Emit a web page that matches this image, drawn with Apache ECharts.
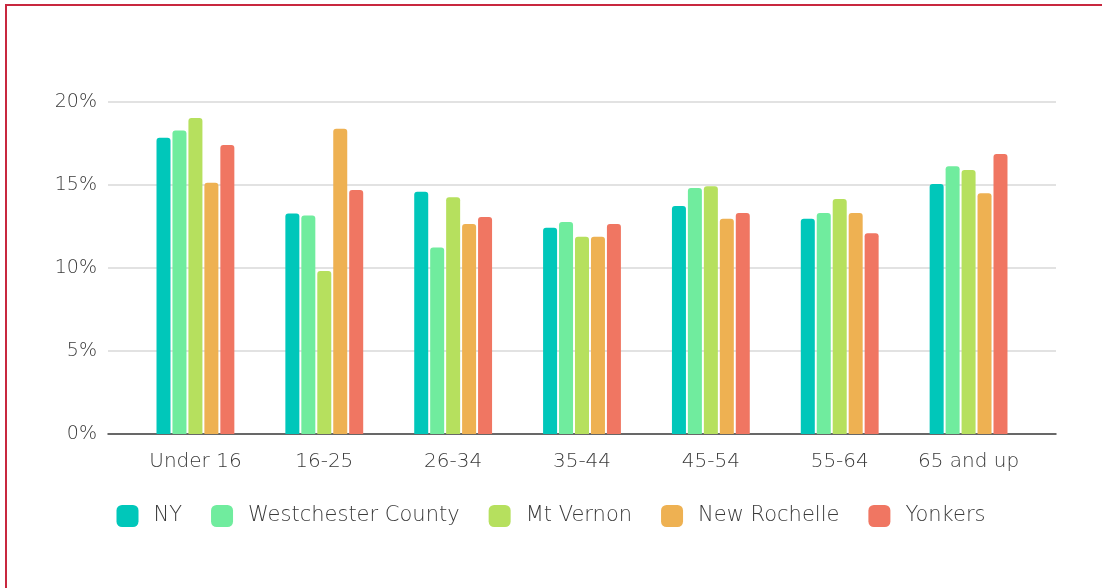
<!DOCTYPE html>
<html>
<head>
<meta charset="utf-8">
<script src="https://cdn.jsdelivr.net/npm/echarts@6/dist/echarts.min.js"></script>
<style>
  html, body { margin: 0; padding: 0; background: #fff; }
  #chart { width: 1102px; height: 588px; }
</style>
</head>
<body>
<div id="chart"></div>
<script>
const categories = ["Under 16", "16-25", "26-34", "35-44", "45-54", "55-64", "65 and up"];
const seriesNames = ["NY", "Westchester County", "Mt Vernon", "New Rochelle", "Yonkers"];
const ny = [17.85, 13.29, 14.6, 12.43, 13.73, 12.97, 15.06];
const westchester = [18.29, 13.17, 11.24, 12.77, 14.82, 13.31, 16.13];
const mtVernon = [19.04, 9.82, 14.26, 11.89, 14.92, 14.16, 15.9];
const newRochelle = [15.14, 18.39, 12.65, 11.89, 12.97, 13.31, 14.5];
const yonkers = [17.41, 14.7, 13.07, 12.65, 13.31, 12.09, 16.87];
const colors = ["#00C7BA", "#70EC9E", "#B6E05E", "#EEB152", "#F07662"];

const allValues = [ny, westchester, mtVernon, newRochelle, yonkers];
const font = "DejaVu Sans";
const textColor = "#3a3a3a";

const chart = echarts.init(document.getElementById("chart"));

const option = {
  animation: false,
  textStyle: { fontFamily: font, fontWeight: 200 },
  graphic: [
    {
      type: "rect",
      shape: { x: 6, y: 5, width: 1200, height: 700 },
      style: { fill: "none", stroke: "#C8283F", lineWidth: 2 },
    },
  ],
  legend: {
    top: 500,
    left: "center",
    itemWidth: 22,
    itemHeight: 22,
    itemGap: 29,
    icon: "roundRect",
    textStyle: { fontFamily: font, fontWeight: 200, fontSize: 21, color: textColor, padding: [0, 0, 0, 10] },
    data: seriesNames,
  },
  grid: [
    { left: 108, right: 46, top: 102, bottom: 154 },
    { left: 131, right: 69, top: 102, bottom: 154 },
  ],
  xAxis: [
    {
      gridIndex: 0,
      type: "category",
      data: categories,
      axisLine: { lineStyle: { color: "#404040", width: 1.5 } },
      axisTick: { show: false },
      axisLabel: { show: false },
    },
    {
      gridIndex: 1,
      type: "category",
      data: categories,
      axisLine: { show: false },
      axisTick: { show: false },
      axisLabel: { interval: 0, fontFamily: font, fontWeight: 200, fontSize: 20, color: textColor, margin: 18 },
    },
  ],
  yAxis: [
    {
      gridIndex: 0,
      type: "value",
      min: 0,
      max: 20,
      interval: 5,
      axisLine: { show: false },
      axisTick: { show: false },
      axisLabel: { formatter: "{value}%", fontFamily: font, fontWeight: 200, fontSize: 19, color: textColor, margin: 11 },
      splitLine: { lineStyle: { color: "#D9D9D9", width: 1.5 } },
    },
    {
      gridIndex: 1,
      type: "value",
      min: 0,
      max: 20,
      interval: 5,
      show: false,
      splitLine: { show: false },
    },
  ],
  series: seriesNames.map((name, i) => ({
    name: name,
    type: "bar",
    xAxisIndex: 1,
    yAxisIndex: 1,
    data: allValues[i],
    barWidth: 14,
    barGap: "14%",
    itemStyle: {
      color: colors[i],
      borderRadius: [3, 3, 0, 0],
    },
  })),
};

chart.setOption(option);
</script>
</body>
</html>
